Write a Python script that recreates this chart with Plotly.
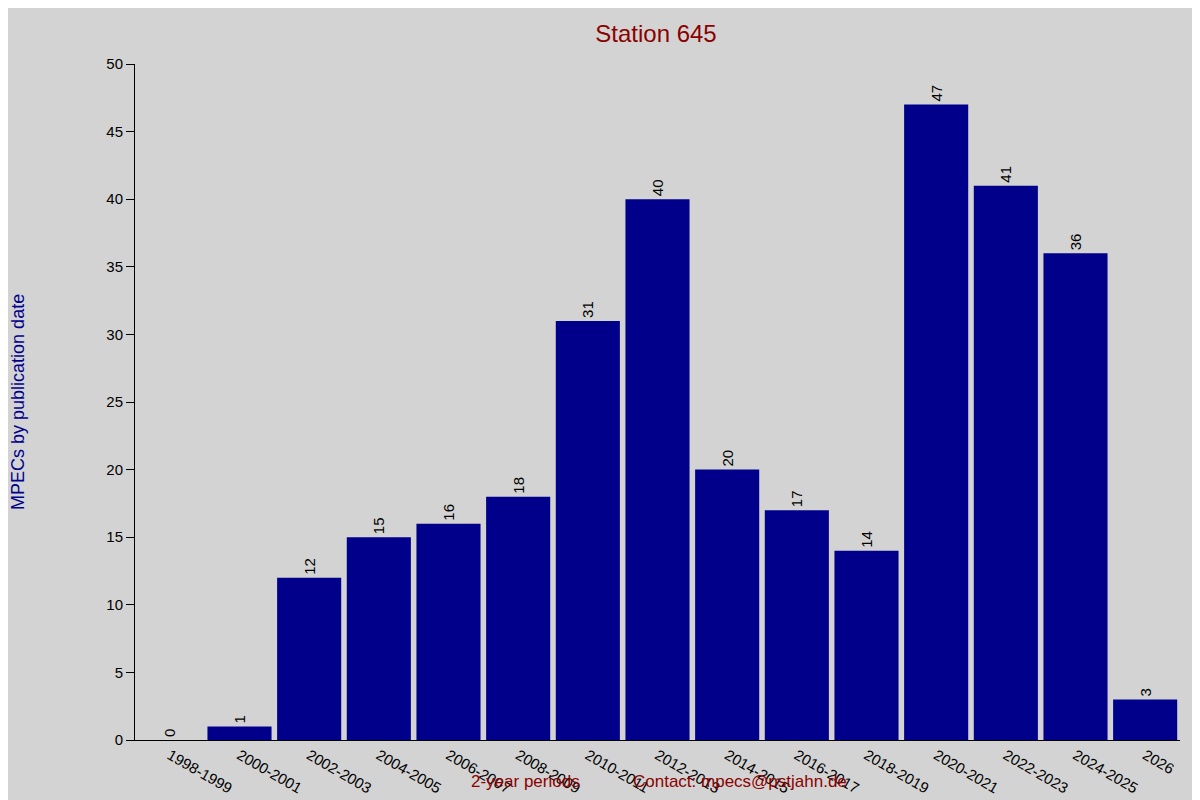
import plotly.graph_objects as go

periods = ["1998-1999","2000-2001","2002-2003","2004-2005","2006-2007","2008-2009","2010-2011",
           "2012-2013","2014-2015","2016-2017","2018-2019","2020-2021","2022-2023","2024-2025","2026"]
counts = [0,1,12,15,16,18,31,40,20,17,14,47,41,36,3]

fig = go.Figure(go.Bar(
    x=periods, y=counts, marker_color="#00008B", marker_line_width=0,
    text=[str(c) for c in counts], textposition="outside", textangle=-90,
    textfont=dict(color="black", size=15), cliponaxis=False))

fig.update_layout(
    width=1200, height=800, paper_bgcolor="#D3D3D3", plot_bgcolor="#D3D3D3",
    margin=dict(l=127, r=28, t=56, b=49), bargap=0.08, showlegend=False,
    font=dict(family="Liberation Sans, Arial", color="black", size=15),
    title=dict(text="Station 645", x=0.54, xanchor="center", y=0.978, yanchor="top",
               font=dict(color="#8B0000", size=24)),
    xaxis=dict(range=[-0.5, 14.5], showline=True, linecolor="black", ticks="", showgrid=False,
               tickfont=dict(size=15)),
    yaxis=dict(range=[0, 50], dtick=5, showline=True, linecolor="black", ticks="outside",
               ticklen=8, tickcolor="black", showgrid=False, zeroline=False, tickfont=dict(size=15)),
    annotations=[
        dict(text="2-year periods", xref="paper", yref="paper", x=(517-127)/1045, y=-0.062,
             showarrow=False, font=dict(color="#8B0000", size=17), yanchor="middle"),
        dict(text="Contact: mpecs@pstjahn.de", xref="paper", yref="paper", x=(732-127)/1045, y=-0.062,
             showarrow=False, font=dict(color="#8B0000", size=17), yanchor="middle"),
        dict(text="MPECs by publication date", xref="paper", yref="paper", x=-0.112, y=0.5,
             textangle=-90, showarrow=False, font=dict(color="#00008B", size=18), xanchor="center"),
    ])
fig.write_html("out.html")
